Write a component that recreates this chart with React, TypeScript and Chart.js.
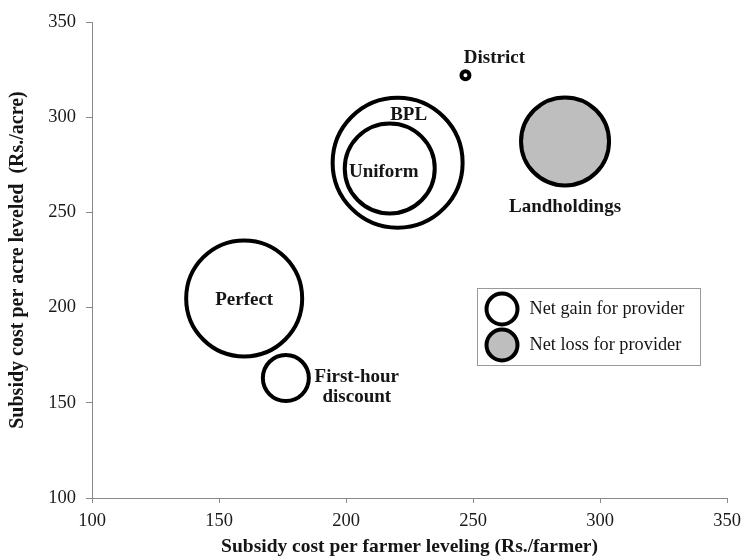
import React, { useEffect, useRef } from "react";
import { Chart, registerables } from "chart.js";

Chart.register(...registerables);

const schemeNames = ["District", "BPL", "Uniform", "Landholdings", "Perfect", "First-hour discount"];
const farmerCost = [247, 220.3, 217.2, 286.2, 159.9, 176.3];
const acreCost = [322, 276.1, 273.1, 287.3, 204.8, 163];
const bubbleSize = [4, 65, 45, 44, 58, 23];
const netLoss = [false, false, false, true, false, false];
const labelLines = [["District"], ["BPL"], ["Uniform"], ["Landholdings"], ["Perfect"], ["First-hour", "discount"]];
const legendLabels = ["Net gain for provider", "Net loss for provider"];
const legendIsLoss = [false, true];
const axisMin = 100;
const axisMax = 350;
const axisStep = 50;
const xTitle = "Subsidy cost per farmer leveling (Rs./farmer)";
const yTitle = "Subsidy cost per acre leveled  (Rs./acre)";

const SERIF = "'Liberation Serif', 'Times New Roman', serif";
const LOSS_FILL = "#bebebe";

// label offsets in pixels relative to each bubble centre (style only)
const labelOffsets: [number, number][] = [
  [29, -17],
  [11, -48],
  [-6, 4],
  [0, 66],
  [0, 2],
  [71, -1],
];

const labelPlugin = {
  id: "bubbleLabels",
  afterDatasetsDraw(chart: any) {
    const ctx = chart.ctx;
    const meta = chart.getDatasetMeta(0);
    ctx.save();
    ctx.font = `bold 19px ${SERIF}`;
    ctx.fillStyle = "#151515";
    ctx.textAlign = "center";
    ctx.textBaseline = "middle";
    meta.data.forEach((el: any, i: number) => {
      const [dx, dy] = labelOffsets[i];
      labelLines[i].forEach((line, j) => {
        ctx.fillText(line, el.x + dx, el.y + dy + j * 20);
      });
    });
    ctx.restore();
  },
};

const legendPlugin = {
  id: "insideLegend",
  afterDraw(chart: any) {
    const ctx = chart.ctx;
    const box = { x: 477.5, y: 288.5, w: 223, h: 77 };
    ctx.save();
    ctx.strokeStyle = "#9a9a9a";
    ctx.lineWidth = 1;
    ctx.fillStyle = "#ffffff";
    ctx.fillRect(box.x, box.y, box.w, box.h);
    ctx.strokeRect(box.x, box.y, box.w, box.h);
    legendLabels.forEach((txt, i) => {
      const cy = box.y + 20.5 + i * 36;
      ctx.beginPath();
      ctx.arc(box.x + 24.5, cy, 15.5, 0, Math.PI * 2);
      ctx.fillStyle = legendIsLoss[i] ? LOSS_FILL : "#ffffff";
      ctx.fill();
      ctx.lineWidth = 4;
      ctx.strokeStyle = "#000000";
      ctx.stroke();
      ctx.font = `18.3px ${SERIF}`;
      ctx.fillStyle = "#151515";
      ctx.textAlign = "left";
      ctx.textBaseline = "middle";
      ctx.fillText(txt, box.x + 52, cy);
    });
    ctx.restore();
  },
};

export default function App() {
  const canvasRef = useRef<HTMLCanvasElement | null>(null);

  useEffect(() => {
    document.body.style.margin = "0";
    const canvas = canvasRef.current;
    if (!canvas) return;
    const tickFont = { family: SERIF, size: 18.5 };
    const chart = new Chart(canvas, {
      type: "bubble",
      data: {
        datasets: [
          {
            label: "Schemes",
            data: farmerCost.map((x, i) => ({ x, y: acreCost[i], r: bubbleSize[i] })),
            backgroundColor: netLoss.map((l) => (l ? LOSS_FILL : "rgba(255,255,255,0)")),
            borderColor: "#000000",
            borderWidth: 4,
            hoverBorderWidth: 4,
          },
        ],
      },
      options: {
        responsive: false,
        animation: false,
        devicePixelRatio: 1,
        layout: { autoPadding: false, padding: { left: 0, right: 19, top: 22, bottom: 0 } },
        plugins: {
          legend: { display: false },
          tooltip: { enabled: false },
        },
        scales: {
          x: {
            type: "linear",
            min: axisMin,
            max: axisMax,
            ticks: { stepSize: axisStep, color: "#1a1a1a", font: tickFont, padding: 7, maxRotation: 0 },
            grid: { drawOnChartArea: false, drawTicks: true, tickLength: 5, color: "#8a8a8a" },
            border: { color: "#8a8a8a", width: 1 },
            title: {
              display: true,
              text: xTitle,
              color: "#151515",
              font: { family: SERIF, size: 19.5, weight: "bold" },
              padding: { top: 0, bottom: -2 },
            },
            afterFit: (s: any) => {
              s.height = 59;
            },
          },
          y: {
            type: "linear",
            min: axisMin,
            max: axisMax,
            ticks: { stepSize: axisStep, color: "#1a1a1a", font: tickFont, padding: 10 },
            grid: { drawOnChartArea: false, drawTicks: true, tickLength: 6, color: "#8a8a8a" },
            border: { color: "#8a8a8a", width: 1 },
            title: {
              display: true,
              text: yTitle,
              color: "#151515",
              font: { family: SERIF, size: 20, weight: "bold" },
              padding: { top: 6, bottom: 0 },
            },
            afterFit: (s: any) => {
              s.width = 92;
            },
          },
        },
      },
      plugins: [labelPlugin, legendPlugin],
    });
    return () => chart.destroy();
  }, []);

  return (
    <div style={{ width: 748, height: 557, background: "#ffffff" }}>
      <canvas ref={canvasRef} width={748} height={557} style={{ display: "block" }} />
    </div>
  );
}
